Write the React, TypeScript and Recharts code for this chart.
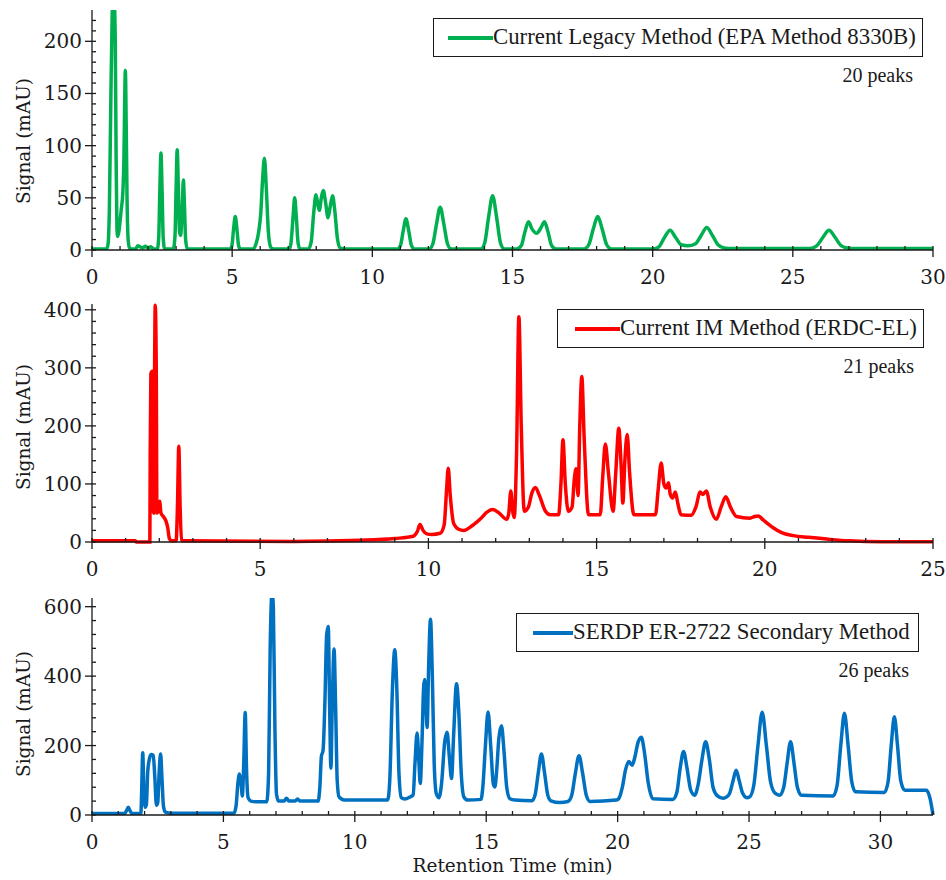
import React from "react";
import { LineChart, Line, XAxis, YAxis, Legend } from "recharts";

const FONT = '"Liberation Serif", "Times New Roman", Times, serif';
// svg text here only resolves a serif face when asked for DejaVu Serif by name
const SVG_FONT = "DejaVu Serif";
const INK = "#1a1a1a";

// [retention time (min), signal (mAU)]
const legacyTrace: [number, number][] = [
  [0, 1], [0.52, 1], [0.57, 5], [0.62, 40], [0.67, 140], [0.72, 225], [0.775, 250], [0.83, 200], [0.86, 90],
  [0.89, 20], [0.92, 13], [0.97, 20], [1.04, 38], [1.1, 55], [1.14, 90], [1.17, 150], [1.19, 172], [1.22, 120],
  [1.25, 50], [1.29, 10], [1.34, 2], [1.4, 1], [1.55, 1], [1.64, 4], [1.72, 3], [1.8, 2], [1.9, 3.5], [2.0, 2],
  [2.1, 3], [2.2, 1], [2.33, 1], [2.38, 12], [2.42, 57], [2.46, 93], [2.5, 57], [2.54, 12], [2.59, 1],
  [2.9, 1], [2.96, 13], [3.0, 59], [3.04, 96], [3.08, 59], [3.12, 18], [3.16, 14], [3.22, 42], [3.26, 67],
  [3.3, 41], [3.34, 10], [3.4, 1], [4.93, 1], [4.99, 4], [5.05, 20], [5.11, 32], [5.17, 20], [5.23, 4], [5.29, 1],
  [5.75, 1], [5.84, 5], [5.95, 18], [6.02, 35], [6.08, 65], [6.15, 88], [6.22, 58], [6.29, 18], [6.37, 3], [6.46, 1],
  [7.04, 1], [7.1, 7], [7.17, 31], [7.23, 50], [7.29, 31], [7.35, 7], [7.42, 1],
  [7.72, 1], [7.82, 8], [7.91, 36], [7.99, 53], [8.06, 43], [8.11, 38], [8.18, 50], [8.25, 57], [8.33, 46],
  [8.42, 31], [8.5, 42], [8.58, 52], [8.66, 38], [8.75, 12], [8.85, 2], [8.97, 1],
  [10.9, 1], [11.0, 4], [11.1, 18], [11.2, 30], [11.3, 18], [11.4, 4], [11.5, 1],
  [12.03, 1], [12.16, 6], [12.29, 25], [12.42, 41], [12.55, 25], [12.68, 6], [12.81, 1],
  [13.87, 1], [14.01, 7], [14.15, 32], [14.29, 52], [14.43, 32], [14.57, 7], [14.71, 1],
  [15.15, 1], [15.31, 4], [15.44, 17], [15.57, 27], [15.7, 20], [15.86, 16], [16.01, 21], [16.14, 27],
  [16.27, 17], [16.4, 4], [16.55, 1], [17.56, 1], [17.72, 5], [17.88, 20], [18.04, 32], [18.2, 20], [18.36, 5],
  [18.52, 1], [20.02, 1], [20.22, 3], [20.42, 12], [20.62, 19], [20.82, 12], [21.02, 5], [21.25, 4], [21.53, 6],
  [21.73, 14], [21.93, 21.5], [22.13, 14], [22.33, 5], [22.55, 2], [22.85, 1.5], [25.6, 1.5], [25.85, 4],
  [26.07, 12], [26.29, 19], [26.51, 12], [26.73, 4], [26.95, 2], [27.3, 1.5], [30, 1.5],
];

const imTrace: [number, number][] = [
  [0, 2], [1.0, 2], [1.28, 2], [1.32, 0], [1.72, 0], [1.73, 150], [1.75, 290], [1.79, 294], [1.81, 120],
  [1.83, 50], [1.85, 200], [1.88, 408], [1.91, 300], [1.93, 50], [1.97, 55], [2.01, 70], [2.05, 50], [2.12, 44],
  [2.2, 36], [2.25, 25], [2.3, 6], [2.36, 2], [2.5, 2], [2.54, 60], [2.58, 165], [2.62, 60], [2.66, 3], [2.75, 2],
  [6.0, 1], [8.0, 3], [9.0, 6], [9.55, 10], [9.67, 18], [9.75, 30], [9.84, 20], [9.95, 14], [10.1, 13],
  [10.35, 15], [10.47, 30], [10.54, 90], [10.59, 127], [10.65, 80], [10.75, 32], [10.9, 22], [11.05, 20],
  [11.3, 28], [11.55, 40], [11.75, 52], [11.91, 56], [12.1, 50], [12.33, 39], [12.39, 50], [12.45, 88],
  [12.5, 55], [12.55, 42], [12.62, 150], [12.69, 388], [12.76, 200], [12.85, 53], [12.97, 60], [13.08, 85],
  [13.18, 94], [13.3, 80], [13.48, 53], [13.62, 47], [13.87, 47], [13.94, 100], [14.0, 176], [14.07, 100],
  [14.16, 53], [14.27, 60], [14.34, 110], [14.39, 126], [14.45, 80], [14.5, 200], [14.56, 285], [14.63, 180],
  [14.76, 47], [15.11, 47], [15.18, 110], [15.26, 169], [15.35, 120], [15.49, 53], [15.57, 120], [15.66, 196],
  [15.73, 130], [15.78, 67], [15.84, 140], [15.91, 185], [15.98, 120], [16.11, 47], [16.75, 47], [16.83, 90],
  [16.92, 136], [17.0, 100], [17.07, 93], [17.14, 102], [17.19, 82], [17.26, 76], [17.34, 86], [17.42, 65],
  [17.51, 47], [17.81, 46], [17.95, 60], [18.08, 86], [18.16, 82], [18.26, 88], [18.38, 60], [18.56, 39],
  [18.7, 60], [18.84, 78], [18.98, 60], [19.16, 44], [19.56, 41], [19.7, 44], [19.81, 45], [19.95, 38],
  [20.26, 24], [20.5, 16], [20.85, 11], [21.3, 8], [21.84, 5], [22.5, 2], [23.5, 0.5], [25, 0.5],
];

const serdpTrace: [number, number][] = [
  [0, 4], [1.24, 4], [1.31, 12], [1.38, 22], [1.45, 12], [1.52, 4], [1.86, 4], [1.89, 70], [1.93, 179],
  [1.97, 80], [2.02, 22], [2.07, 30], [2.12, 125], [2.18, 160], [2.25, 174], [2.33, 172], [2.39, 110],
  [2.45, 28], [2.5, 35], [2.56, 130], [2.61, 176], [2.66, 110], [2.72, 25], [2.8, 8], [3.0, 5], [5.4, 5],
  [5.48, 25], [5.55, 90], [5.61, 118], [5.67, 95], [5.72, 55], [5.77, 140], [5.83, 295], [5.88, 130],
  [5.94, 50], [6.05, 40], [6.3, 38], [6.65, 38], [6.72, 120], [6.78, 480], [6.85, 640], [6.9, 600], [6.96, 250],
  [7.02, 60], [7.1, 40], [7.3, 40], [7.4, 48], [7.5, 40], [7.72, 40], [7.82, 46], [7.92, 40], [8.6, 40],
  [8.67, 80], [8.73, 170], [8.79, 185], [8.86, 320], [8.93, 520], [8.99, 543], [9.04, 320], [9.09, 135],
  [9.14, 310], [9.21, 478], [9.27, 310], [9.33, 100], [9.4, 52], [9.6, 43], [11.25, 43], [11.33, 100],
  [11.43, 360], [11.52, 476], [11.6, 360], [11.68, 120], [11.77, 50], [11.9, 46], [12.1, 52], [12.22, 58],
  [12.29, 150], [12.37, 236], [12.44, 150], [12.49, 91], [12.56, 220], [12.62, 370], [12.66, 390], [12.71, 310],
  [12.75, 252], [12.81, 430], [12.88, 564], [12.95, 400], [13.02, 150], [13.1, 62], [13.2, 50], [13.3, 90],
  [13.42, 210], [13.51, 238], [13.6, 165], [13.68, 105], [13.76, 230], [13.87, 378], [13.96, 290], [14.05, 120],
  [14.15, 52], [14.3, 43], [14.8, 45], [14.87, 80], [14.97, 200], [15.07, 297], [15.17, 200], [15.27, 90],
  [15.33, 81], [15.4, 130], [15.48, 220], [15.58, 257], [15.68, 180], [15.78, 80], [15.9, 47], [16.1, 43],
  [16.74, 41], [16.86, 58], [16.98, 121], [17.1, 176], [17.22, 121], [17.34, 58], [17.46, 41], [17.8, 36],
  [18.11, 39], [18.25, 56], [18.39, 119], [18.53, 171], [18.67, 119], [18.81, 56], [18.95, 39], [19.95, 43],
  [20.05, 48], [20.18, 80], [20.3, 130], [20.43, 154], [20.55, 143], [20.65, 165], [20.78, 210], [20.9, 224],
  [21.03, 175], [21.16, 95], [21.34, 47], [22.1, 45], [22.25, 64], [22.38, 135], [22.51, 183], [22.64, 135],
  [22.78, 72], [22.93, 57], [23.07, 90], [23.21, 160], [23.35, 211], [23.49, 160], [23.63, 80], [23.8, 55],
  [24.01, 48], [24.15, 52], [24.27, 64], [24.39, 98], [24.51, 129], [24.63, 98], [24.75, 64], [24.92, 50],
  [25.02, 52], [25.18, 85], [25.34, 200], [25.5, 296], [25.66, 200], [25.82, 95], [26.0, 62], [26.16, 57],
  [26.32, 80], [26.45, 150], [26.58, 211], [26.71, 150], [26.84, 80], [27.0, 57], [28.2, 55], [28.35, 85],
  [28.49, 200], [28.63, 293], [28.77, 200], [28.91, 95], [29.05, 67], [30.15, 65], [30.29, 95], [30.41, 200],
  [30.53, 283], [30.65, 200], [30.77, 100], [30.93, 71], [31.75, 71], [31.88, 50], [32, 0],
];

const legacyXMajor = [0, 5, 10, 15, 20, 25, 30];
const legacyYMajor = [0, 50, 100, 150, 200];
const imXMajor = [0, 5, 10, 15, 20, 25];
const imYMajor = [0, 100, 200, 300, 400];
const serdpXMajor = [0, 5, 10, 15, 20, 25, 30];
const serdpYMajor = [0, 200, 400, 600];

const TICK_SIZE = 20;
const TITLE_SIZE = 18.5;

const steps = (to: number, step: number) =>
  Array.from({ length: Math.floor(to / step + 1e-9) + 1 }, (_, i) => +(i * step).toFixed(4));

const isIn = (list: number[], v: number) => list.some((m) => Math.abs(m - v) < 1e-6);

const xTick = (majors: number[]) => (props: any) => {
  const { x, y, payload } = props;
  const major = isIn(majors, payload.value);
  return (
    <g>
      <line x1={x} x2={x} y1={y - 4} y2={major ? y + 7 : y} stroke={INK} strokeWidth={1.3} />
      {major && (
        <text x={x} y={y + 34} textAnchor="middle" fontFamily={SVG_FONT} fontSize={TICK_SIZE} fill={INK}>
          {payload.value}
        </text>
      )}
    </g>
  );
};

const yTick = (majors: number[]) => (props: any) => {
  const { x, y, payload } = props;
  const major = isIn(majors, payload.value);
  return (
    <g>
      <line x1={major ? x - 7 : x} x2={x + 4} y1={y} y2={y} stroke={INK} strokeWidth={1.3} />
      {major && (
        <text x={x - 10} y={y + 7} textAnchor="end" fontFamily={SVG_FONT} fontSize={TICK_SIZE} fill={INK}>
          {payload.value}
        </text>
      )}
    </g>
  );
};

const YTitle = ({ cy }: { cy: number }) => (
  <text x={23} y={cy} transform={`rotate(-90 23 ${cy})`} textAnchor="middle" dominantBaseline="central"
    fontFamily={SVG_FONT} fontSize={TITLE_SIZE} fill={INK}>
    Signal (mAU)
  </text>
);

const XTitle = ({ cy }: { cy: number }) => (
  <text x={512.5} y={cy} textAnchor="middle" fontFamily={SVG_FONT} fontSize={TITLE_SIZE} fill={INK}>
    Retention Time (min)
  </text>
);

interface BoxSpec { left: number; top: number; width: number; lineLeft: number; lineLen: number }

const LegendBox = ({ p, name, color, peaks, box }: any) => {
  const entry = p?.payload?.[0];
  const label = entry?.value ?? name;
  const stroke = entry?.color ?? color;
  return (
    <div style={{ position: "relative", width: box.width, height: 39, fontFamily: FONT, color: INK }}>
      <div style={{ position: "absolute", inset: 0, border: `1.5px solid ${INK}`, boxSizing: "border-box" }} />
      <div style={{ position: "absolute", left: box.lineLeft, top: 17.5, width: box.lineLen, height: 4, background: stroke }} />
      <div style={{ position: "absolute", left: box.lineLeft + box.lineLen, top: 0, height: 39, display: "flex",
        alignItems: "center", fontSize: 22.8, lineHeight: 1, whiteSpace: "nowrap" }}>
        {label}
      </div>
      <div style={{ position: "absolute", right: 10, top: 47, fontSize: 20, lineHeight: 1, whiteSpace: "nowrap" }}>
        {peaks}
      </div>
    </div>
  );
};

interface PanelProps {
  trace: [number, number][];
  name: string;
  peaks: string;
  color: string;
  top: number;
  height: number;
  marginTop: number;
  xAxisHeight: number;
  xMax: number;
  yMax: number;
  xMajor: number[];
  yMajor: number[];
  yStep: number;
  box: BoxSpec;
  yTitleY: number;
  xTitleY?: number;
  clip?: boolean;
}

const Panel = (props: PanelProps) => {
  const { trace, name, peaks, color, top, height, marginTop, xAxisHeight, xMax, yMax, xMajor, yMajor, yStep, box,
    yTitleY, xTitleY, clip } = props;
  const rows = trace.map(([time, signal]) => ({ time, signal }));
  const axisLine = { stroke: INK, strokeWidth: 1.3 };
  return (
    <div style={{ position: "absolute", left: 0, top, width: 946, height }}>
      <LineChart width={946} height={height} data={rows} margin={{ top: marginTop, right: 13, left: 0, bottom: 0 }}>
        <XAxis dataKey="time" type="number" domain={[0, xMax]} ticks={steps(xMax, 1)} interval={0}
          height={xAxisHeight} tickSize={0} tickMargin={0} tickLine={false} axisLine={axisLine}
          tick={xTick(xMajor)} label={xTitleY !== undefined ? <XTitle cy={xTitleY} /> : undefined} />
        <XAxis xAxisId="frame" orientation="top" type="number" domain={[0, xMax]} height={0}
          tick={false} tickLine={false} axisLine={axisLine} />
        <YAxis type="number" domain={[0, yMax]} allowDataOverflow={!!clip}
          ticks={steps(yMax, yStep).filter((v) => v < yMax - 1e-6)} interval={0} width={92}
          tickSize={0} tickMargin={0} tickLine={false} axisLine={axisLine} tick={yTick(yMajor)}
          label={<YTitle cy={yTitleY} />} />
        <YAxis yAxisId="frame" orientation="right" type="number" domain={[0, yMax]} width={0}
          tick={false} tickLine={false} axisLine={axisLine} />
        <Legend layout="horizontal" align="center" verticalAlign="middle"
          wrapperStyle={{ left: box.left, top: box.top, width: box.width, height: 39 }}
          content={(p: any) => <LegendBox p={p} name={name} color={color} peaks={peaks} box={box} />} />
        <Line type="monotone" dataKey="signal" name={name} stroke={color} strokeWidth={3.5}
          dot={false} activeDot={false} isAnimationActive={false} />
      </LineChart>
    </div>
  );
};

export default function App() {
  return (
    <div style={{ position: "relative", width: 946, height: 880, background: "#fff", fontFamily: FONT }}>
      <style>{"body{margin:0;background:#fff}"}</style>
      <Panel trace={legacyTrace} name="Current Legacy Method (EPA Method 8330B)" peaks="20 peaks" color="#00B050"
        top={0} height={290} marginTop={10} xAxisHeight={40} xMax={30} yMax={230}
        xMajor={legacyXMajor} yMajor={legacyYMajor} yStep={10}
        box={{ left: 433, top: 18, width: 490, lineLeft: 15, lineLen: 45 }} yTitleY={141} clip />
      <Panel trace={imTrace} name="Current IM Method (ERDC-EL)" peaks="21 peaks" color="#FF0000"
        top={290} height={300} marginTop={14} xAxisHeight={48} xMax={25} yMax={410}
        xMajor={imXMajor} yMajor={imYMajor} yStep={20}
        box={{ left: 557, top: 19, width: 367, lineLeft: 18, lineLen: 45 }} yTitleY={137} />
      <Panel trace={serdpTrace} name="SERDP ER-2722 Secondary Method" peaks="26 peaks" color="#0070C0"
        top={590} height={290} marginTop={8} xAxisHeight={65} xMax={32} yMax={625}
        xMajor={serdpXMajor} yMajor={serdpYMajor} yStep={40}
        box={{ left: 516, top: 23, width: 403, lineLeft: 17, lineLen: 40 }} yTitleY={124} xTitleY={282} clip />
    </div>
  );
}
